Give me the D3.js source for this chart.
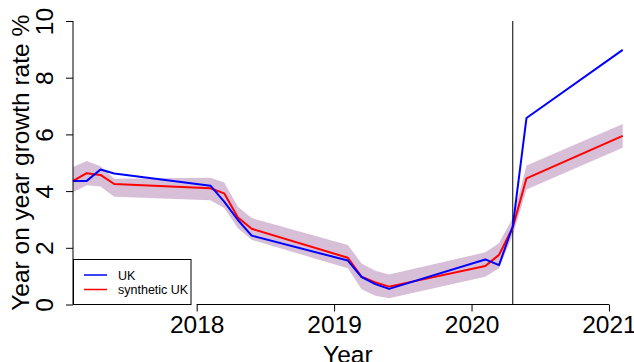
<!DOCTYPE html>
<html>
<head>
<meta charset="utf-8">
<script src="https://cdn.jsdelivr.net/npm/d3@7"></script>
<style>
  html, body { margin: 0; padding: 0; background: #fff; }
  svg { display: block; }
  text { font-family: "Liberation Sans", Arial, Helvetica, sans-serif; fill: #000; }
</style>
</head>
<body>
<svg id="chart" width="634" height="362"></svg>
<script>
// Quarterly observations, coded as year.quarter
const quarters = [2017.1, 2017.2, 2017.3, 2017.4, 2018.1, 2018.2, 2018.3, 2018.4,
                  2019.1, 2019.2, 2019.3, 2019.4, 2020.1, 2020.2, 2020.3, 2020.4, 2021.1];
// Year on year growth rate (%) for the UK
const ukSeries = [4.36, 4.36, 4.76, 4.62, 4.19, 3.63, 2.98, 2.43,
                  1.55, 0.97, 0.72, 0.55, 1.59, 1.39, 2.76, 6.58, 8.98];
// Synthetic control estimate
const synthSeries = [4.36, 4.63, 4.57, 4.25, 4.10, 3.92, 3.07, 2.67,
                     1.65, 0.98, 0.78, 0.63, 1.36, 1.75, 2.72, 4.45, 5.95];
// Uncertainty band around the synthetic series
const bandUpper = [4.85, 5.06, 4.88, 4.44, 4.47, 4.30, 3.45, 3.05,
                   2.10, 1.45, 1.19, 1.06, 1.84, 2.16, 3.05, 4.90, 6.37];
const bandLower = [3.96, 4.21, 4.16, 3.80, 3.68, 3.40, 2.69, 2.28,
                   1.28, 0.54, 0.31, 0.22, 0.98, 1.28, 2.45, 4.06, 5.53];
// Treatment date marker
const interventionDate = [2020.3];
// Axis ticks
const xTicks = [2018, 2019, 2020, 2021];
const yTicks = [0, 2, 4, 6, 8, 10];
// Legend entries
const legendLabels = ["UK", "synthetic UK"];
const legendColors = ["#0000FF", "#FF0000"];

const svg = d3.select("#chart");
const plotLeft = 73, plotRight = 622.7, plotTop = 21, plotBottom = 304.5;

const x = d3.scaleLinear().domain([2017.1, 2021.1]).range([plotLeft, plotRight]);
const y = d3.scaleLinear().domain([0, 10]).range([plotBottom, plotTop]);

const rows = quarters.map((q, i) => ({
  q, uk: ukSeries[i], synth: synthSeries[i], hi: bandUpper[i], lo: bandLower[i]
}));

// Shaded band
svg.append("path")
  .datum(rows)
  .attr("fill", "#D8BFD8")
  .attr("d", d3.area().x(d => x(d.q)).y0(d => y(d.lo)).y1(d => y(d.hi)));

// Vertical reference line
svg.selectAll("line.event")
  .data(interventionDate)
  .join("line")
  .attr("class", "event")
  .attr("x1", d => x(d)).attr("x2", d => x(d))
  .attr("y1", y(10)).attr("y2", y(0))
  .attr("stroke", "#000").attr("stroke-width", 1);

// Series lines
const lineSynth = d3.line().x(d => x(d.q)).y(d => y(d.synth));
const lineUk = d3.line().x(d => x(d.q)).y(d => y(d.uk));
svg.append("path").datum(rows)
  .attr("fill", "none").attr("stroke", "#FF0000").attr("stroke-width", 2)
  .attr("stroke-linejoin", "round").attr("d", lineSynth);
svg.append("path").datum(rows)
  .attr("fill", "none").attr("stroke", "#0000FF").attr("stroke-width", 2)
  .attr("stroke-linejoin", "round").attr("d", lineUk);

// Y axis
const yAxis = svg.append("g").attr("transform", `translate(${plotLeft},0)`)
  .call(d3.axisLeft(y).tickValues(yTicks).tickSize(7).tickSizeOuter(0).tickFormat(d3.format("d")));
yAxis.select(".domain").remove();
yAxis.append("line")
  .attr("x1", 0).attr("x2", 0)
  .attr("y1", y(yTicks[0])).attr("y2", y(yTicks[yTicks.length - 1]))
  .attr("stroke", "#000");
yAxis.selectAll(".tick line").attr("stroke", "#000");
yAxis.selectAll(".tick text")
  .attr("transform", "rotate(-90)")
  .attr("x", 0).attr("y", -19.7).attr("dy", 0)
  .attr("text-anchor", "middle")
  .style("font-size", "24.5px");

// X axis
const xAxis = svg.append("g").attr("transform", `translate(0,${plotBottom})`)
  .call(d3.axisBottom(x).tickValues(xTicks).tickSize(7).tickSizeOuter(0).tickFormat(d3.format("d")));
xAxis.select(".domain").remove();
xAxis.append("line")
  .attr("x1", x(xTicks[0])).attr("x2", x(xTicks[xTicks.length - 1]))
  .attr("y1", 0).attr("y2", 0)
  .attr("stroke", "#000");
xAxis.selectAll(".tick line").attr("stroke", "#000");
xAxis.selectAll(".tick text")
  .attr("y", 28.5).attr("dy", 0)
  .style("font-size", "24.5px");
svg.selectAll("g").attr("font-family", null);

// Axis titles
svg.append("text")
  .attr("x", (plotLeft + plotRight) / 2).attr("y", 362.5)
  .attr("text-anchor", "middle")
  .style("font-size", "24.5px")
  .text("Year");
svg.append("text")
  .attr("transform", `translate(28.5,${(plotTop + plotBottom) / 2}) rotate(-90)`)
  .attr("text-anchor", "middle")
  .style("font-size", "24.5px")
  .text("Year on year growth rate %");

// Legend
const legend = svg.append("g");
legend.append("rect")
  .attr("x", 73.5).attr("y", 259.5).attr("width", 117.5).attr("height", 45)
  .attr("fill", "#fff").attr("stroke", "#000").attr("stroke-width", 1);
const entries = legend.selectAll("g.entry")
  .data(legendLabels)
  .join("g")
  .attr("class", "entry")
  .attr("transform", (d, i) => `translate(0,${275 + i * 14.5})`);
entries.append("line")
  .attr("x1", 84).attr("x2", 107).attr("y1", 0).attr("y2", 0)
  .attr("stroke", (d, i) => legendColors[i]).attr("stroke-width", 1.5);
entries.append("text")
  .attr("x", 118).attr("y", 4.5)
  .style("font-size", "12.5px")
  .text(d => d);
</script>
</body>
</html>
